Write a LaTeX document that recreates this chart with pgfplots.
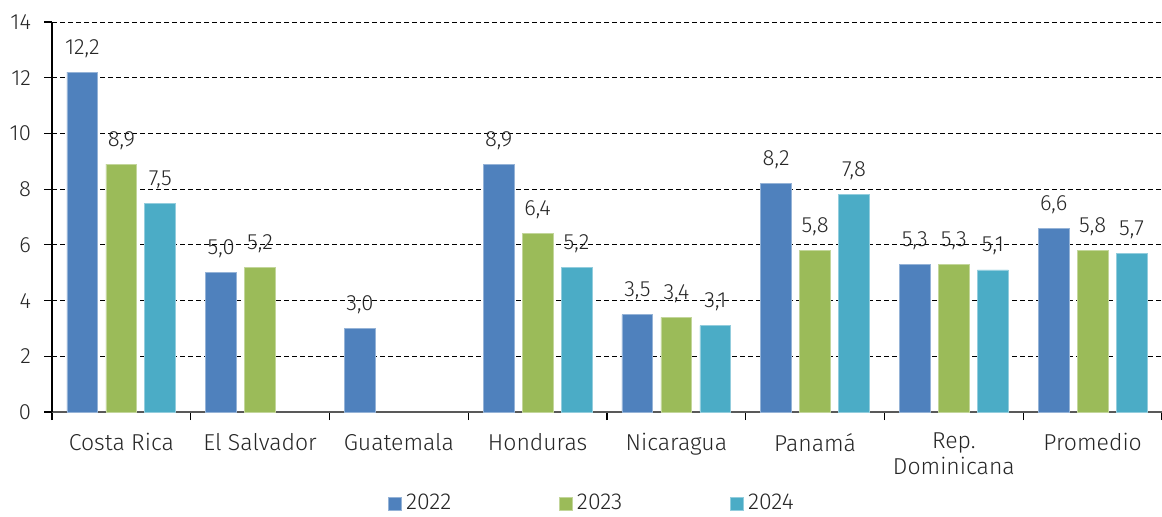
\documentclass[border=0pt]{standalone}
\usepackage{pgfplots}
\pgfplotsset{compat=1.18}
\usepackage{fontspec}
\setmainfont{Fira Sans}[UprightFont=* Light]
\definecolor{c22}{HTML}{4F81BD}
\definecolor{c23}{HTML}{9BBB59}
\definecolor{c24}{HTML}{4BACC6}
\definecolor{txt}{HTML}{262626}

\begin{document}
\begin{tikzpicture}[font=\fontsize{11}{13}\selectfont, text=txt]
\begin{axis}[
  name=ax,
  scale only axis,
  width=555pt, height=195pt,
  xmin=-0.5, xmax=7.5,
  ymin=0, ymax=14,
  ybar, bar width=0.223,
  axis x line*=bottom, axis y line*=left,
  x axis line style={draw=black!65, line width=0.8pt},
  y axis line style={draw=black, line width=0.6pt},
  xtick={0,...,7},
  xticklabels={Costa Rica,El Salvador,Guatemala,Honduras,Nicaragua,Panamá,{Rep.\\Dominicana},Promedio},
  x tick label style={align=center, yshift=-3pt, font=\fontsize{11.5}{13}\selectfont},
  major x tick style={draw=none},
  minor xtick={-0.5,0.5,...,7.5},
  minor tick length=4pt,
  minor x tick style={draw=black, line width=0.6pt},
  ytick={0,2,...,14},
  major tick length=4pt,
  y tick style={draw=black, line width=0.6pt},
  y tick label style={xshift=-3pt},
  tick align=outside,
  ymajorgrids,
  grid style={draw=black, line width=0.5pt, dash pattern=on 2.5pt off 1.5pt},
  /pgf/number format/assume math mode=true,
  nodes near coords,
  nodes near coords style={anchor=base, yshift=9pt, text=txt,
    /pgf/number format/.cd, fixed, fixed zerofill, precision=1, use comma, assume math mode=true},
  legend columns=3,
  legend style={draw=none, fill=none, at={(0.3027,-0.235)}, anchor=west, inner sep=0pt,
    font=\fontsize{11.5}{13}\selectfont,
    /tikz/every even column/.append style={column sep=52pt}, text=txt},
  legend image code/.code={\fill[#1] (0pt,-3.2pt) rectangle (6.4pt,3.2pt);},
]
\addplot[fill=c22, draw=c22!60!white, line width=0.4pt, bar shift=-0.281] coordinates {
  (0,12.2) (1,5.0) (2,3.0) (3,8.9) (4,3.5) (5,8.2) (6,5.3) (7,6.6)};
\addplot[fill=c23, draw=c23!60!white, line width=0.4pt, bar shift=0] coordinates {
  (0,8.9) (1,5.2) (3,6.4) (4,3.4) (5,5.8) (6,5.3) (7,5.8)};
\addplot[fill=c24, draw=c24!60!white, line width=0.4pt, bar shift=0.281] coordinates {
  (0,7.5) (3,5.2) (4,3.1) (5,7.8) (6,5.1) (7,5.7)};
\legend{2022,2023,2024}
\end{axis}
\pgfresetboundingbox
\path ([shift={(-26pt,-52pt)}]ax.south west) rectangle ([shift={(0pt,11pt)}]ax.north east);
\end{tikzpicture}
\end{document}
